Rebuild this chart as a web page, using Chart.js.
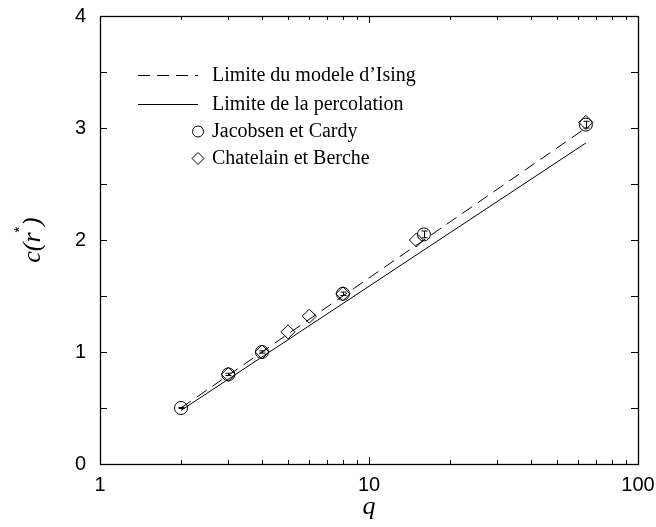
<!DOCTYPE html>
<html>
<head>
<meta charset="utf-8">
<script src="https://cdn.jsdelivr.net/npm/chart.js@4.4.1/dist/chart.umd.min.js"></script>
<style>
  html, body { margin: 0; padding: 0; background: #fff; }
  #wrap { width: 656px; height: 527px; }
</style>
</head>
<body>
<div id="wrap"><canvas id="c"></canvas></div>
<script>
// Limites theoriques (droites en echelle log)
const isingQ = [2, 64];
const isingC = [0.5, 3.0];
const percoQ = [2, 64];
const percoC = [0.478, 2.866];

// Jacobsen et Cardy
const jcQ = [2, 3, 4, 8, 16, 64];
const jcC = [0.5, 0.8, 1.0, 1.52, 2.05, 3.03];
const jcErr = [0.005, 0.01, 0.01, 0.015, 0.03, 0.03];

// Chatelain et Berche
const cbQ = [3, 4, 5, 6, 8, 15, 64];
const cbC = [0.8, 1.0, 1.18, 1.32, 1.52, 2.0, 3.05];

const xMajor = [1, 10, 100];
const yMajor = [0, 1, 2, 3, 4];

const legendItems = [
  { label: "Limite du modele d\u2019Ising", kind: 'dash' },
  { label: 'Limite de la percolation', kind: 'line' },
  { label: 'Jacobsen et Cardy', kind: 'circle' },
  { label: 'Chatelain et Berche', kind: 'diamond' }
];

function pts(xs, ys) {
  return xs.map((x, i) => ({ x: x, y: ys[i] }));
}

const serif = '"Liberation Serif", "Times New Roman", serif';

// ticks, barres d'erreur, legende et titres dessines a la main
const decorPlugin = {
  id: 'decor',
  afterDatasetsDraw(chart) {
    const ctx = chart.ctx;
    const a = chart.chartArea;
    const xs = chart.scales.x, ys = chart.scales.y;
    ctx.save();
    ctx.strokeStyle = '#000';
    ctx.lineWidth = 1;

    // barres d'erreur Jacobsen
    jcQ.forEach((q, i) => {
      const px = Math.round(xs.getPixelForValue(q)) + 0.5;
      const y1 = ys.getPixelForValue(jcC[i] + jcErr[i]);
      const y2 = ys.getPixelForValue(jcC[i] - jcErr[i]);
      ctx.beginPath();
      ctx.moveTo(px, y1); ctx.lineTo(px, y2);
      ctx.moveTo(px - 3, y1); ctx.lineTo(px + 3, y1);
      ctx.moveTo(px - 3, y2); ctx.lineTo(px + 3, y2);
      ctx.stroke();
    });

    // cadre
    ctx.lineWidth = 1.3;
    ctx.strokeRect(Math.round(a.left) + 0.5, Math.round(a.top) + 0.5,
      Math.round(a.right - a.left), Math.round(a.bottom - a.top));
    ctx.lineWidth = 1;

    // graduations internes
    ctx.beginPath();
    for (let d = 1; d < 100; d *= 10) {
      for (let k = 1; k <= 10; k++) {
        const v = d * k;
        const px = Math.round(xs.getPixelForValue(v)) + 0.5;
        const len = (k === 1 || k === 10) ? 7 : 4;
        ctx.moveTo(px, a.bottom); ctx.lineTo(px, a.bottom - len);
        ctx.moveTo(px, a.top); ctx.lineTo(px, a.top + len);
      }
    }
    for (let v = 0; v <= 4; v += 0.5) {
      const py = Math.round(ys.getPixelForValue(v)) + 0.5;
      const len = 7;
      ctx.moveTo(a.left, py); ctx.lineTo(a.left + len, py);
      ctx.moveTo(a.right, py); ctx.lineTo(a.right - len, py);
    }
    ctx.stroke();

    // legende
    ctx.font = '20px ' + serif;
    ctx.fillStyle = '#000';
    ctx.textBaseline = 'middle';
    ctx.textAlign = 'left';
    const rows = [75, 104, 131, 158];
    legendItems.forEach((it, i) => {
      const y = rows[i] + 0.5;
      ctx.beginPath();
      if (it.kind === 'dash') {
        ctx.setLineDash([12, 7]);
        ctx.moveTo(138, y); ctx.lineTo(198, y);
        ctx.stroke();
        ctx.setLineDash([]);
      } else if (it.kind === 'line') {
        ctx.moveTo(138, y); ctx.lineTo(198, y);
        ctx.stroke();
      } else if (it.kind === 'circle') {
        ctx.arc(198, y, 5.5, 0, Math.PI * 2);
        ctx.stroke();
      } else {
        ctx.moveTo(198, y - 6); ctx.lineTo(204, y); ctx.lineTo(198, y + 6); ctx.lineTo(192, y);
        ctx.closePath();
        ctx.stroke();
      }
      ctx.fillText(it.label, 212, rows[i] + 1);
    });

    // titre x
    ctx.font = 'italic 26px ' + serif;
    ctx.textAlign = 'center';
    ctx.textBaseline = 'alphabetic';
    ctx.fillText('q', (a.left + a.right) / 2, 514);

    // titre y : c(r*)
    ctx.translate(40, (a.top + a.bottom) / 2);
    ctx.rotate(-Math.PI / 2);
    ctx.textAlign = 'left';
    const main1 = 'c(r';
    const main2 = ' )';
    const w1 = ctx.measureText(main1).width;
    const w2 = ctx.measureText(main2).width;
    const x0 = -(w1 + w2) / 2;
    ctx.fillText(main1, x0, 0);
    ctx.fillText(main2, x0 + w1, 0);
    ctx.font = '15px "Liberation Sans", Arial, sans-serif';
    ctx.fillText('*', x0 + w1, -16);
    ctx.restore();
  }
};

new Chart(document.getElementById('c'), {
  type: 'scatter',
  data: {
    datasets: [
      {
        label: "Limite du modele d'Ising",
        data: pts(isingQ, isingC),
        showLine: true,
        borderColor: '#000',
        borderWidth: 1,
        borderDash: [12, 7],
        pointRadius: 0
      },
      {
        label: 'Limite de la percolation',
        data: pts(percoQ, percoC),
        showLine: true,
        borderColor: '#000',
        borderWidth: 1,
        pointRadius: 0
      },
      {
        label: 'Jacobsen et Cardy',
        data: pts(jcQ, jcC),
        pointStyle: 'circle',
        pointRadius: 6.5,
        pointBorderWidth: 1,
        borderColor: '#000',
        backgroundColor: 'rgba(0,0,0,0)'
      },
      {
        label: 'Chatelain et Berche',
        data: pts(cbQ, cbC),
        pointStyle: 'rectRot',
        pointRadius: 7,
        pointBorderWidth: 1,
        borderColor: '#000',
        backgroundColor: 'rgba(0,0,0,0)'
      }
    ]
  },
  options: {
    responsive: true,
    maintainAspectRatio: false,
    animation: false,
    layout: { padding: { left: 0, top: 16, right: 18, bottom: 0 } },
    plugins: {
      legend: { display: false },
      tooltip: { enabled: false }
    },
    scales: {
      x: {
        type: 'logarithmic',
        min: 1,
        max: 100,
        afterBuildTicks: s => { s.ticks = xMajor.map(v => ({ value: v })); },
        afterFit: s => {
          s.height = 63;
          s.paddingLeft = 0;
          s.paddingRight = 0;
        },
        grid: { display: false, drawTicks: false },
        border: { display: false },
        ticks: {
          color: '#000',
          padding: 9,
          maxRotation: 0,
          autoSkip: false,
          font: { family: '"Liberation Sans", Arial, sans-serif', size: 20 },
          callback: v => String(v)
        }
      },
      y: {
        min: 0,
        max: 4,
        afterBuildTicks: s => { s.ticks = yMajor.map(v => ({ value: v })); },
        afterFit: s => {
          s.width = 100;
          s.paddingTop = 0;
          s.paddingBottom = 0;
        },
        grid: { display: false, drawTicks: false },
        border: { display: false },
        ticks: {
          color: '#000',
          padding: 14,
          font: { family: '"Liberation Sans", Arial, sans-serif', size: 20 }
        }
      }
    }
  },
  plugins: [decorPlugin]
});
</script>
</body>
</html>
